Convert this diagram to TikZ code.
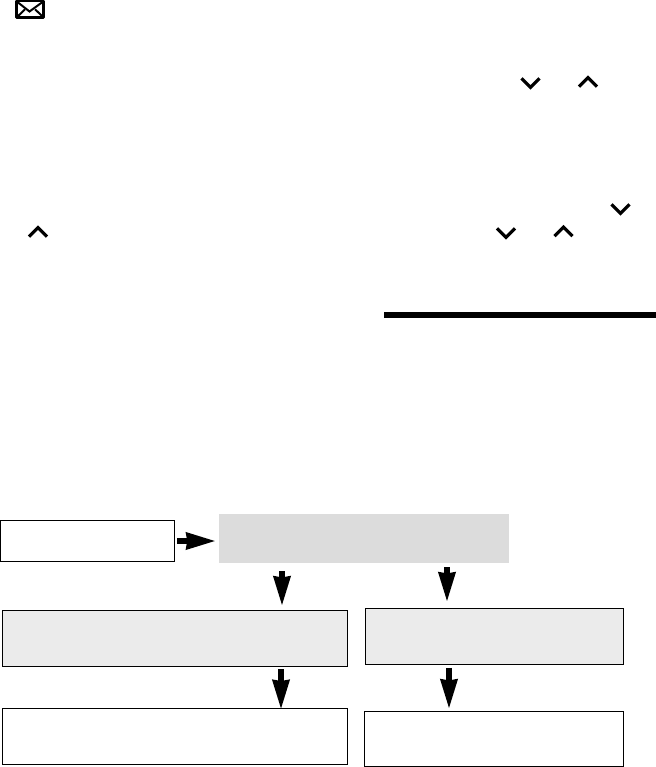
\documentclass[tikz,border=0pt]{standalone}
\usetikzlibrary{arrows.meta}
\tikzset{
  x=0.75pt,y=-0.75pt,
  boxbase/.style={draw=black,line width=0.8pt,inner sep=0pt,outer sep=0pt,anchor=north west},
  whitebox/.style={boxbase,fill=white},
  palebox/.style={boxbase,fill=boxpale},
  graybox/.style={inner sep=0pt,outer sep=0pt,anchor=north west,fill=boxgray},
  flow/.style={line width=4.5pt,-{Stealth[inset=0.4pt,length=22pt,width=12pt]},black},
  chevline/.style={draw=black,line width=2.4pt,line cap=butt,line join=miter},
  chevdown/.pic={\draw[chevline] (-9,-5.2)--(0,3.9)--(9,-5.2);},
  chevup/.pic={\draw[chevline] (-9,5.2)--(0,-3.9)--(9,5.2);},
}
\definecolor{boxpale}{HTML}{EBEBEB}
\definecolor{boxgray}{HTML}{DCDCDC}
\begin{document}
\begin{tikzpicture}
\useasboundingbox (0,0) rectangle (656,767);
% envelope icon
\draw[line width=2pt,line join=round] (16.3,1) rectangle (43.7,17.5);
\draw[line width=1.5pt] (17,1.7)--(29.5,11.5)--(43,1.7);
\draw[line width=1.5pt] (17.3,16.8)--(25,9.3);
\draw[line width=1.5pt] (43,16.8)--(35,9.3);
% chevrons
\path (530.5,83.5) pic {chevdown};
\path (588,81.5) pic {chevup};
\path (620.5,209.5) pic {chevdown};
\path (38,231.5) pic {chevup};
\path (506,233.5) pic {chevdown};
\path (563.5,231) pic {chevup};
% heading rule
\fill[black] (384,312) rectangle (656,318);
% boxes
\node[whitebox,minimum width=130.5pt,minimum height=30.75pt] (start) at (0.5,520.5) {};
\node[graybox,minimum width=217.5pt,minimum height=36.75pt] (menu) at (219,514) {};
\node[palebox,minimum width=258.75pt,minimum height=42pt] (pl) at (2.5,610.5) {};
\node[palebox,minimum width=193.5pt,minimum height=42pt] (pr) at (365.5,608.5) {};
\node[whitebox,minimum width=258.75pt,minimum height=42pt] (wl) at (2.5,708.5) {};
\node[whitebox,minimum width=194.25pt,minimum height=41pt] (wr) at (364.5,711.5) {};
% connectors
\coordinate (c1) at (282,0);
\coordinate (c2) at (281,0);
\coordinate (c3) at (447,0);
\coordinate (c4) at (449,0);
\draw[flow,shorten <=1.9pt,shorten >=2.2pt] (start.east) -- (start.east -| menu.west);
\draw[flow,shorten <=6pt,shorten >=3.2pt] (c1 |- menu.south) -- (c1 |- pl.north);
\draw[flow,shorten <=3pt,shorten >=4.7pt] (c3 |- menu.south) -- (c3 |- pr.north);
\draw[flow,shorten <=2.2pt,shorten >=-1pt] (c2 |- pl.south) -- (c2 |- wl.north);
\draw[flow,shorten <=2.6pt,shorten >=1.7pt] (c4 |- pr.south) -- (c4 |- wr.north);
\end{tikzpicture}
\end{document}
